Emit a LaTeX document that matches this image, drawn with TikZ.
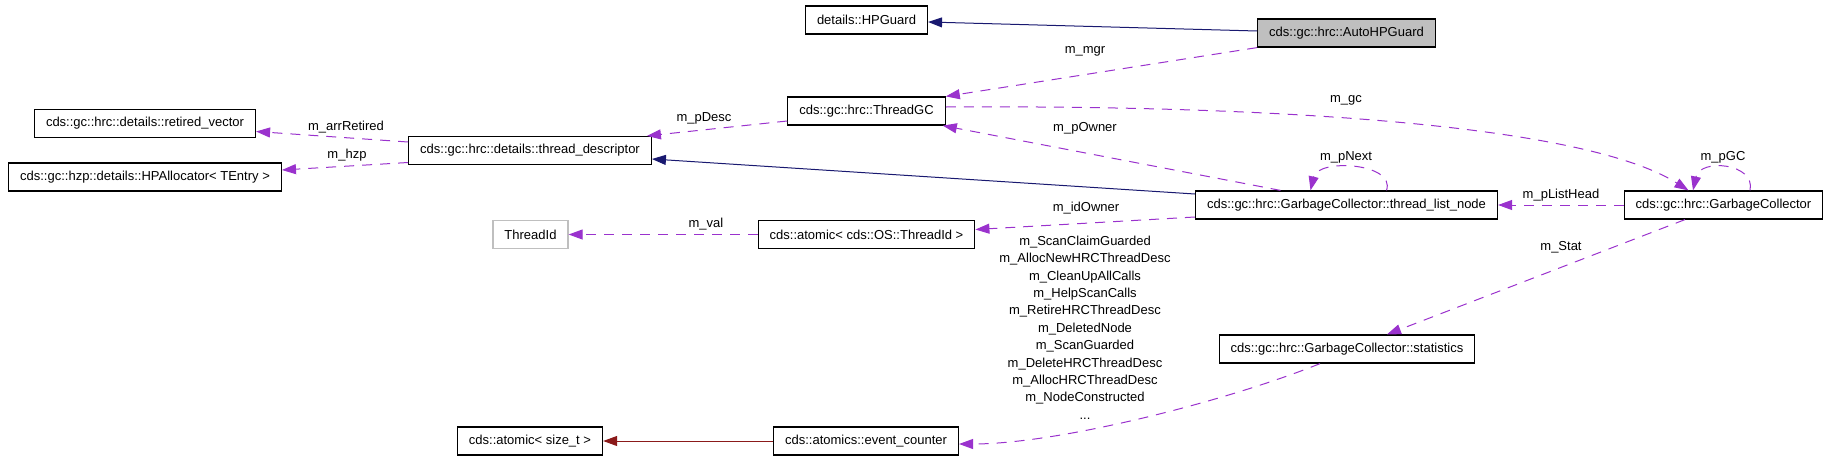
\documentclass[tikz,border=0pt]{standalone}
\usepackage{fontspec}
\setmainfont{Liberation Sans}
\usepackage{tikz}
\usetikzlibrary{arrows.meta}
\definecolor{memberclr}{HTML}{9A32CD}
\definecolor{baseclr}{HTML}{191970}
\definecolor{tmplclr}{HTML}{8B1A1A}
\definecolor{focusclr}{HTML}{BFBFBF}

\begin{document}
\begin{tikzpicture}[x=1pt,y=-1pt,
  font=\fontsize{13}{15.6}\selectfont,
  cls/.style={draw,line width=1.2pt,minimum height=28pt,inner xsep=11.5pt,inner ysep=0pt},
  lbl/.style={inner sep=0pt},
  member/.style={draw=memberclr,line width=1pt,dash pattern=on 10pt off 8pt,-{Triangle[length=14pt,width=10pt]}},
  base/.style={draw=baseclr,line width=1pt,-{Triangle[length=14pt,width=10pt]}},
  tmpl/.style={draw=tmplclr,line width=1pt,-{Triangle[length=14pt,width=10pt]}}]
  \useasboundingbox (0,0) rectangle (1829,461);

  % classes
  \node[cls,fill=focusclr] (auto) at (1346.5,33) {cds::gc::hrc::AutoHPGuard};
  \node[cls] (hpguard) at (866.5,20) {details::HPGuard};
  \node[cls] (threadgc) at (866.5,111) {cds::gc::hrc::ThreadGC};
  \node[cls] (thrdesc) at (530,150.5) {cds::gc::hrc::details::thread\_descriptor};
  \node[cls] (retvec) at (145,123.5) {cds::gc::hrc::details::retired\_vector};
  \node[cls] (hpalloc) at (145,177) {cds::gc::hzp::details::HPAllocator< TEntry >};
  \node[cls] (listnode) at (1346.5,205) {cds::gc::hrc::GarbageCollector::thread\_list\_node};
  \node[cls] (gc) at (1723.5,205) {cds::gc::hrc::GarbageCollector};
  \node[cls,draw=focusclr] (threadid) at (530.5,234.5) {ThreadId};
  \node[cls] (atomicid) at (866.5,234.5) {cds::atomic< cds::OS::ThreadId >};
  \node[cls] (stats) at (1347,349) {cds::gc::hrc::GarbageCollector::statistics};
  \node[cls] (evcounter) at (866,441) {cds::atomics::event\_counter};
  \node[cls] (atomicsz) at (530,441) {cds::atomic< size\_t >};

  % member names
  \node[lbl] (lmgr) at (1085,51) {m\_mgr};
  \node[lbl] (lpdesc) at (704,118) {m\_pDesc};
  \node[lbl] (lretired) at (346,127) {m\_arrRetired};
  \node[lbl] (lhzp) at (347,155) {m\_hzp};
  \node[lbl] (lgc) at (1346,100) {m\_gc};
  \node[lbl] (lowner) at (1085,128) {m\_pOwner};
  \node[lbl] (lnext) at (1346,157) {m\_pNext};
  \node[lbl] (lpgc) at (1723,157) {m\_pGC};
  \node[lbl] (lhead) at (1561,195) {m\_pListHead};
  \node[lbl] (lidowner) at (1086,208) {m\_idOwner};
  \node[lbl] (lval) at (706,224) {m\_val};
  \node[lbl] (lstat) at (1561,247) {m\_Stat};
  \node[lbl,align=center,font=\fontsize{13}{17.4}\selectfont] (lcounters) at (1085,327.5)
    {m\_ScanClaimGuarded\\m\_AllocNewHRCThreadDesc\\m\_CleanUpAllCalls\\m\_HelpScanCalls\\m\_RetireHRCThreadDesc\\m\_DeletedNode\\m\_ScanGuarded\\m\_DeleteHRCThreadDesc\\m\_AllocHRCThreadDesc\\m\_NodeConstructed\\...};

  % edges
  \draw[base] ([yshift=2pt]auto.west) -- ([yshift=-2pt]hpguard.east);
  \draw[member] (auto.south west) -- (threadgc.north east);
  \draw[member] ([yshift=-10pt]threadgc.west) -- ([xshift=-5pt]thrdesc.north east);
  \draw[member] ([yshift=8.5pt]thrdesc.west) -- ([yshift=-8pt]retvec.east);
  \draw[member] ([yshift=-12pt]thrdesc.west) -- ([yshift=7pt]hpalloc.east);
  \draw[base] ([yshift=11pt]listnode.west) -- ([yshift=-8.5pt]thrdesc.east);
  \draw[member] ([xshift=-66pt]listnode.north) -- ([xshift=-3pt]threadgc.south east);
  \draw[member] ([yshift=4pt]threadgc.east) .. controls (1250,105) and (1580,122) .. ([xshift=-35pt]gc.north);
  \draw[member] ([xshift=40pt]listnode.north) .. controls (1396,163) and (1318,158) .. ([xshift=-36pt]listnode.north);
  \draw[member] ([xshift=26.5pt]gc.north) .. controls (1756,163) and (1700,158) .. ([xshift=-30.5pt]gc.north);
  \draw[member] (gc.west) -- (listnode.east);
  \draw[member] ([yshift=-12pt]listnode.west) -- ([yshift=5pt]atomicid.east);
  \draw[member] (atomicid.west) -- (threadid.east);
  \draw[member] ([xshift=-38.5pt]gc.south) -- ([xshift=40pt]stats.north);
  \draw[member] ([xshift=-27pt]stats.south) .. controls (1230,400) and (1060,444) .. ([yshift=-3pt]evcounter.east);
  \draw[tmpl] (evcounter.west) -- (atomicsz.east);
\end{tikzpicture}
\end{document}
